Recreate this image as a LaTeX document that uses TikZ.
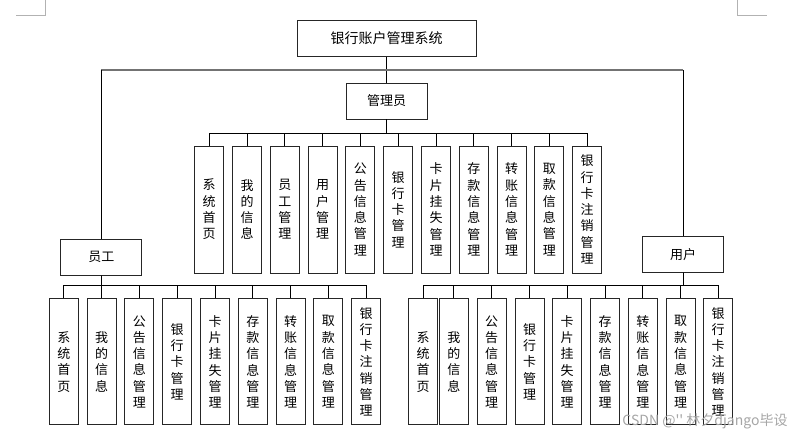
\documentclass[tikz,border=0pt]{standalone}
\usepackage{fontspec}
\newfontfamily\cjk{Noto Sans CJK SC}
\begin{document}
\begin{tikzpicture}[x=1pt,y=-1pt,
  box/.style={draw=black!85,line width=0.9pt,inner sep=0pt,font=\cjk\fontsize{13}{16}\selectfont},
  vbox/.style={box,minimum width=29pt,align=center,font=\cjk\fontsize{13}{16.3}\selectfont},
  arow/.style={vbox,minimum height=127pt},
  brow/.style={vbox,minimum height=125.7pt},
  conn/.style={draw=black,line width=0.8pt},
  corner/.style={draw=black!30,line width=0.8pt}]
\useasboundingbox (0,0) rectangle (797,435);
% page corner marks
\coordinate (cl1) at (45,0); \coordinate (cl2) at (45,15); \coordinate (cl3) at (16,15);
\draw[corner] (cl1) -- (cl2) -- (cl3);
\coordinate (cr1) at (737,0); \coordinate (cr2) at (737,15); \coordinate (cr3) at (767,15);
\draw[corner] (cr1) -- (cr2) -- (cr3);
% top
\node[box,minimum width=179pt,minimum height=36pt,font=\cjk\fontsize{14}{16}\selectfont] (top) at (386.5,38.5) {银行账户管理系统};
\node[box,minimum width=81pt,minimum height=36pt] (admin) at (386.5,101) {管理员};
\node[box,minimum width=81pt,minimum height=36pt] (staff) at (101.3,257.3) {员工};
\node[box,minimum width=81pt,minimum height=36pt] (user) at (683.2,254.2) {用户};
\coordinate (hl) at (101.3,70);
\coordinate (hr) at (683.2,70);
\draw[conn] (top.south) -- (admin.north);
\draw[draw=black!55,line width=1.2pt] (hl) -- (hr);
\draw[conn] (hl) -- (staff.north);
\draw[conn] (hr) -- (user.north);
% admin children
\foreach \t [count=\i from 0] in {系\\统\\首\\页, 我\\的\\信\\息, 员\\工\\管\\理, 用\\户\\管\\理, 公\\告\\信\\息\\管\\理, 银\\行\\卡\\管\\理, 卡\\片\\挂\\失\\管\\理, 存\\款\\信\\息\\管\\理, 转\\账\\信\\息\\管\\理, 取\\款\\信\\息\\管\\理, 银\\行\\卡\\注\\销\\管\\理}{
  \node[arow] (a\i) at ({209.2+37.8*\i},209.5) {\t};
  \draw[conn] (admin.south) -- +(0,14) -| (a\i.north);
}
% staff children
\foreach \t [count=\i from 0] in {系\\统\\首\\页, 我\\的\\信\\息, 公\\告\\信\\息\\管\\理, 银\\行\\卡\\管\\理, 卡\\片\\挂\\失\\管\\理, 存\\款\\信\\息\\管\\理, 转\\账\\信\\息\\管\\理, 取\\款\\信\\息\\管\\理, 银\\行\\卡\\注\\销\\管\\理}{
  \node[brow] (s\i) at ({63.8+37.8*\i},361.8) {\t};
  \draw[conn] (staff.south) -- +(0,10) -| (s\i.north);
}
% user children
\foreach \t/\x [count=\i from 0] in {系\\统\\首\\页/423.2, 我\\的\\信\\息/453.8, 公\\告\\信\\息\\管\\理/491.7, 银\\行\\卡\\管\\理/529.5, 卡\\片\\挂\\失\\管\\理/567.2, 存\\款\\信\\息\\管\\理/605, 转\\账\\信\\息\\管\\理/642.8, 取\\款\\信\\息\\管\\理/680.7, 银\\行\\卡\\注\\销\\管\\理/718.2}{
  \node[brow] (u\i) at (\x,361.8) {\t};
  \draw[conn] (user.south) -- +(0,13) -| (u\i.north);
}
% watermark
\node[text=black!35,font=\cjk\fontsize{14}{16}\selectfont,inner sep=0pt] (wm) at (705,421) {CSDN @'' 林夕django毕设};
\end{tikzpicture}
\end{document}
